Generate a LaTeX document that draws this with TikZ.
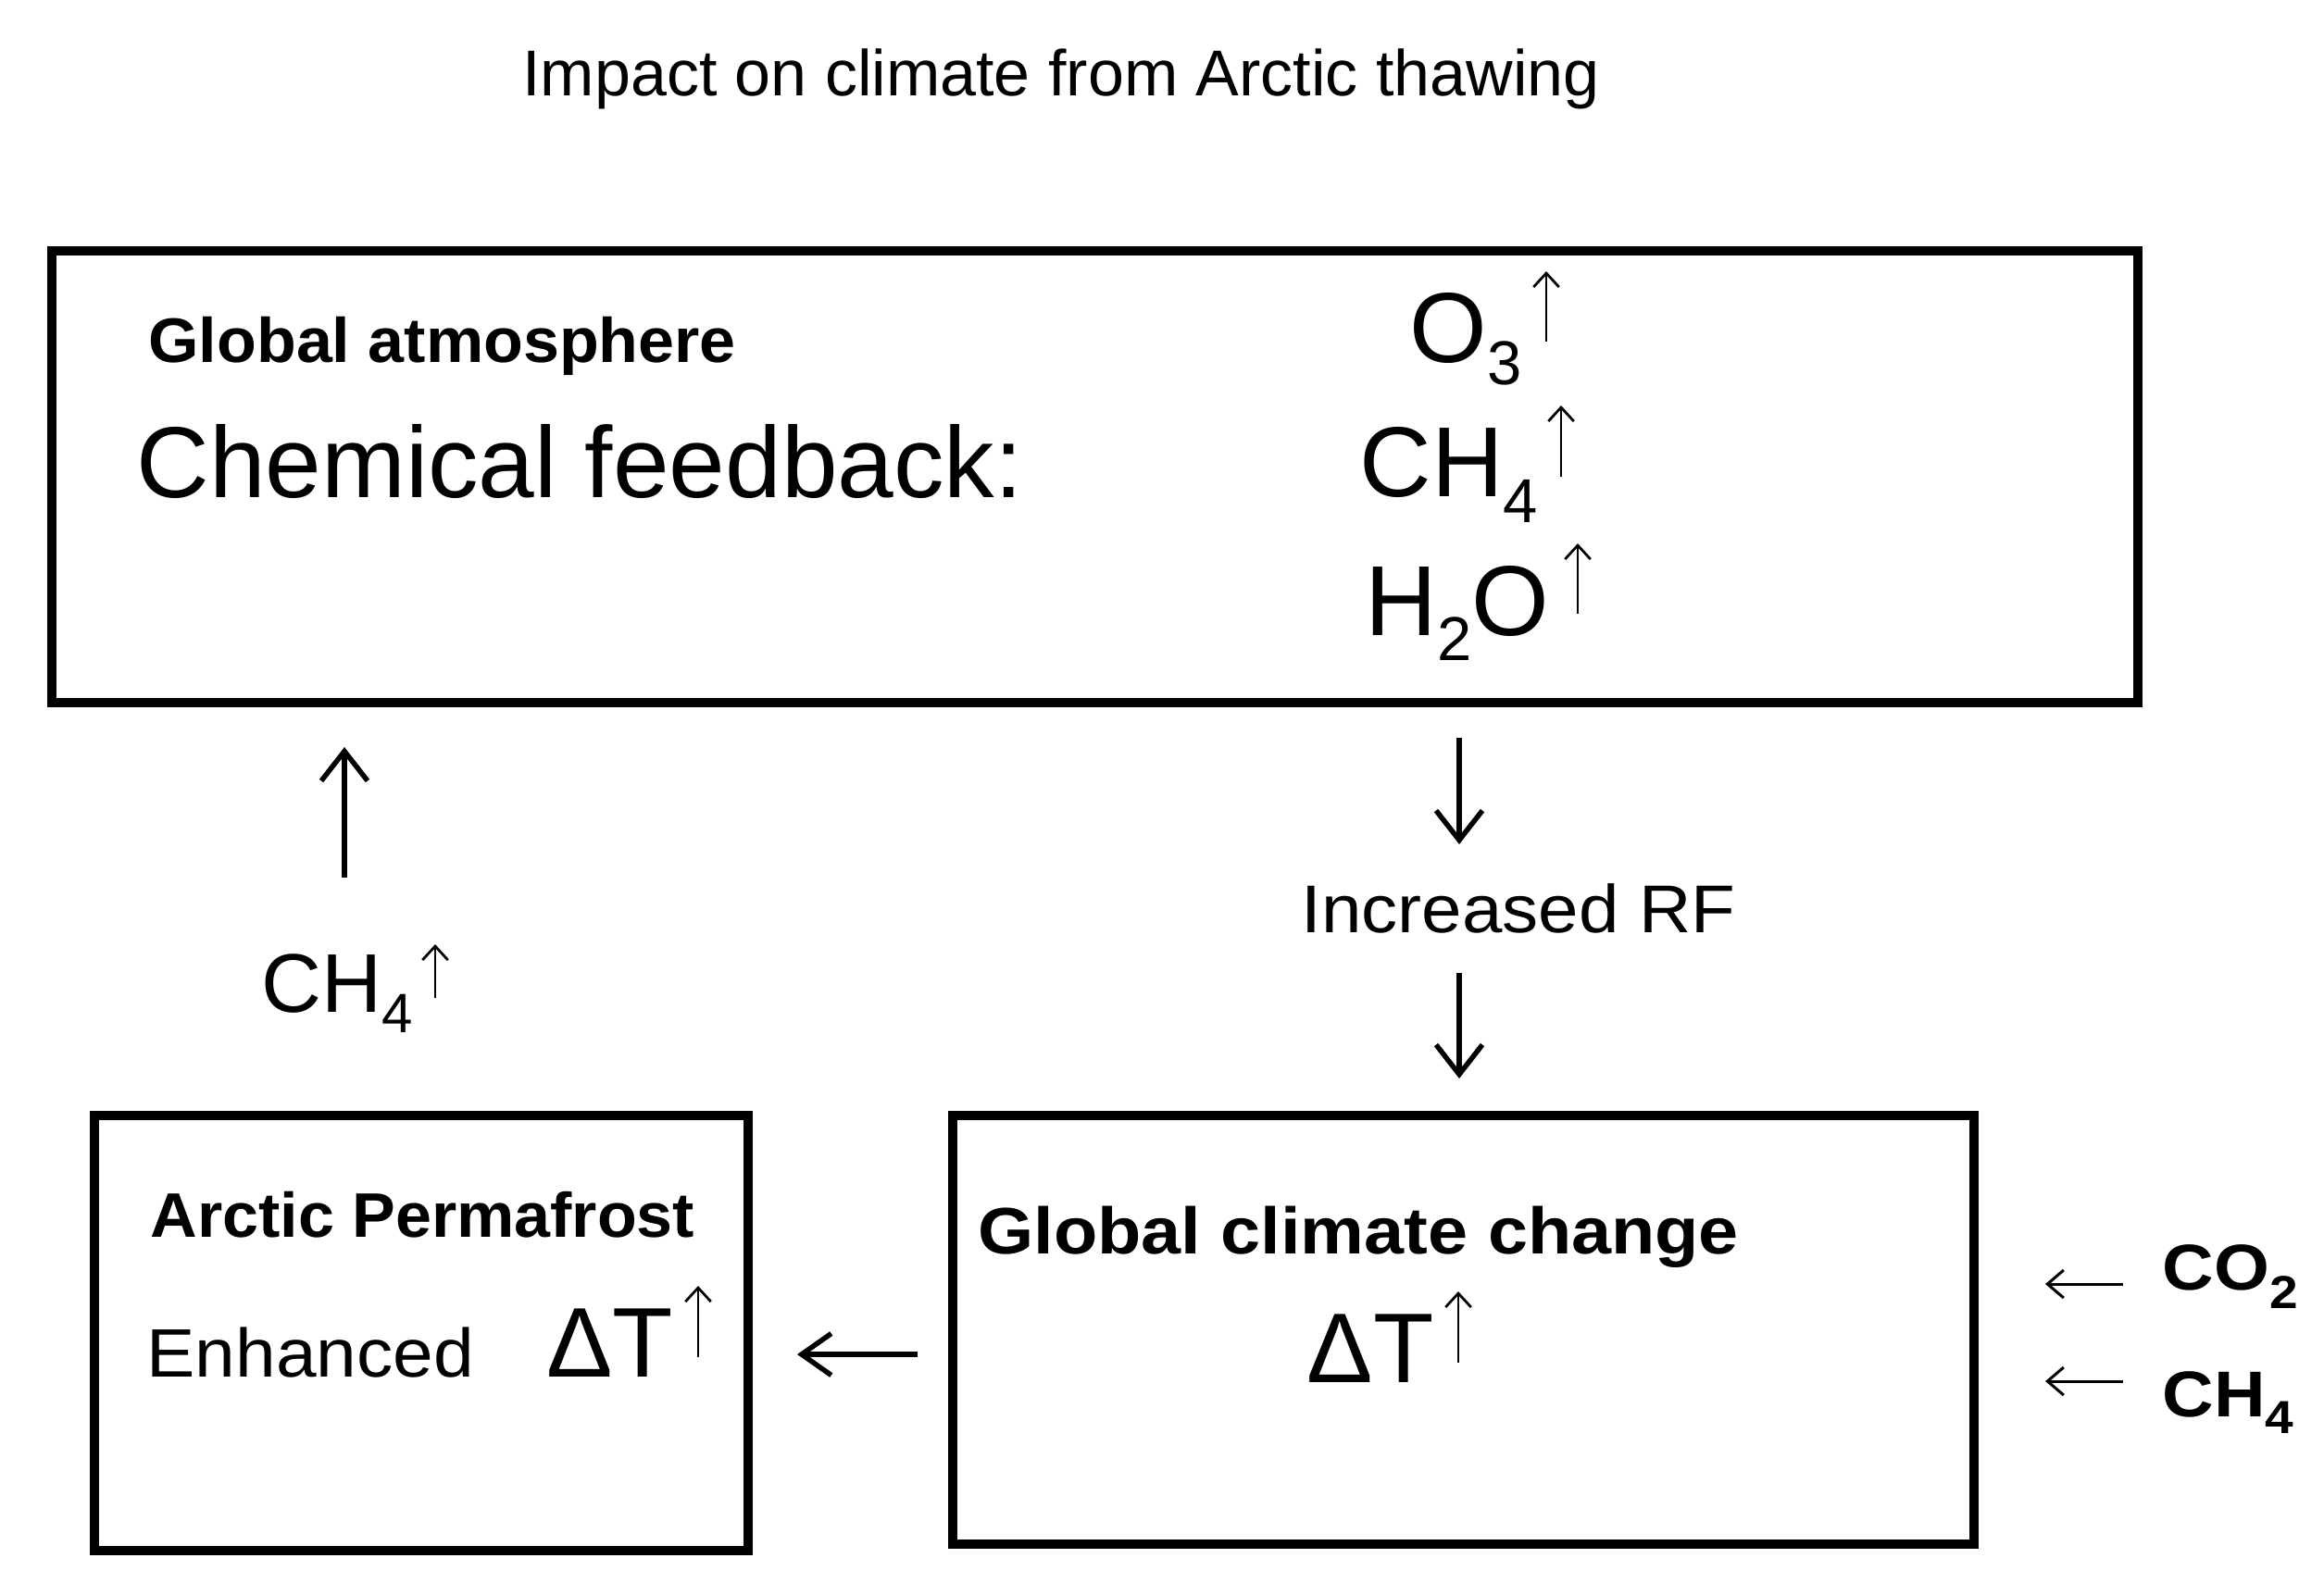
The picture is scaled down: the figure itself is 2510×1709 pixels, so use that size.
\documentclass[tikz,border=0pt]{standalone}
\usepackage{fontspec}
\setmainfont{Liberation Sans}
\usetikzlibrary{arrows.meta,fit}
\newcommand\fsz[1]{\fontsize{#1}{#1}\selectfont}
\newcommand\lowsub[3]{\raisebox{-#2}{\fsz{#1}#3}}
\begin{document}
\begin{tikzpicture}[x=0.4pt,y=-0.4pt,
  box/.style={draw, line width=3.8pt, inner sep=0pt},
  txt/.style={anchor=base west, inner sep=0pt},
  flow/.style={line width=2.2pt, -{Straight Barb[length=12.8pt,width=20pt]}},
  sideflow/.style={line width=2.2pt, -{Straight Barb[length=12.8pt,width=18pt]}},
  glyph/.style={line width=1.1pt, -{Straight Barb[length=6pt,width=11pt]}},
  thinflow/.style={line width=1.2pt, -{Straight Barb[length=7pt,width=12pt]}}]
\useasboundingbox (0,0) rectangle (2510,1709);

% title
\node[anchor=base, inner sep=0pt] (title) at (1146,103) {\fsz{28pt}Impact on climate from Arctic thawing};

% boxes
\node[box, fit={(56,271) (2309,759)}] (atm) {};
\node[box, fit={(102,1205) (808,1675)}] (perm) {};
\node[box, fit={(1029,1205) (2132,1668)}] (gcc) {};

% top box text
\node[txt] (gatm) at (160,391) {\fsz{27.2pt}\bfseries\scalebox{1.03}[1]{Global atmosphere}};
\node[txt] (chem) at (147,537) {\fsz{43.6pt}Chemical feedback:};
\node[txt] (o3) at (1522,391) {\fsz{43pt}O\lowsub{26.8pt}{9.6pt}{3}};
\node[txt] (ch4a) at (1468,536) {\fsz{43pt}CH\lowsub{26.8pt}{11.2pt}{4}};
\node[txt] (h2o) at (1474,686) {\fsz{43pt}H\lowsub{26.8pt}{10.8pt}{2}O};
\draw[glyph] (1670,369) -- (1670,293);
\draw[glyph] (1686,515) -- (1686,438);
\draw[glyph] (1704,663) -- (1704,587);

% left: CH4 up
\coordinate (upS) at (372,948);
\coordinate (upE) at (372,807);
\draw[flow] (upS) -- (upE);
\node[txt] (ch4l) at (282,1093) {\fsz{36pt}CH\lowsub{24pt}{8.8pt}{4}};
\draw[glyph] (470,1078) -- (470,1020);

% right: Increased RF
\coordinate (d1S) at (1576,797);
\coordinate (d1E) at (1576,912);
\coordinate (d2S) at (1576,1051);
\coordinate (d2E) at (1576,1165);
\draw[flow] (d1S) -- (d1E);
\node[txt] (rf) at (1405,1007) {\fsz{29.2pt}\scalebox{1.07}[1]{Increased RF}};
\draw[flow] (d2S) -- (d2E);

% permafrost box text
\node[txt] (aperm) at (162,1336) {\fsz{27.2pt}\bfseries\scalebox{1.03}[1]{Arctic Permafrost}};
\node[txt] (enh) at (158,1487) {\fsz{29.6pt}\scalebox{1.06}[1]{Enhanced}};
\node[txt] (dtl) at (590,1487) {\fsz{42.8pt}ΔT};
\draw[glyph] (754,1466) -- (754,1389);

% arrow gcc -> perm
\coordinate (lS) at (991,1463);
\coordinate (lE) at (861,1463);
\draw[sideflow] (lS) -- (lE);

% gcc box text
\node[txt] (gcct) at (1056,1354) {\fsz{28.4pt}\bfseries\scalebox{1.09}[1]{Global climate change}};
\node[txt] (dtr) at (1411,1493) {\fsz{42.8pt}ΔT};
\draw[glyph] (1575,1472) -- (1575,1395);

% external inputs
\coordinate (c1S) at (2293,1387);
\coordinate (c1E) at (2209,1387);
\coordinate (c2S) at (2293,1492);
\coordinate (c2E) at (2209,1492);
\draw[thinflow] (c1S) -- (c1E);
\draw[thinflow] (c2S) -- (c2E);
\node[txt] (co2) at (2335,1393) {\fsz{28pt}\bfseries\scalebox{1.1}[1]{CO\lowsub{20pt}{8pt}{2}}};
\node[txt] (ch4r) at (2335,1530) {\fsz{28pt}\bfseries\scalebox{1.1}[1]{CH\lowsub{20pt}{7.2pt}{4}}};
\end{tikzpicture}
\end{document}
